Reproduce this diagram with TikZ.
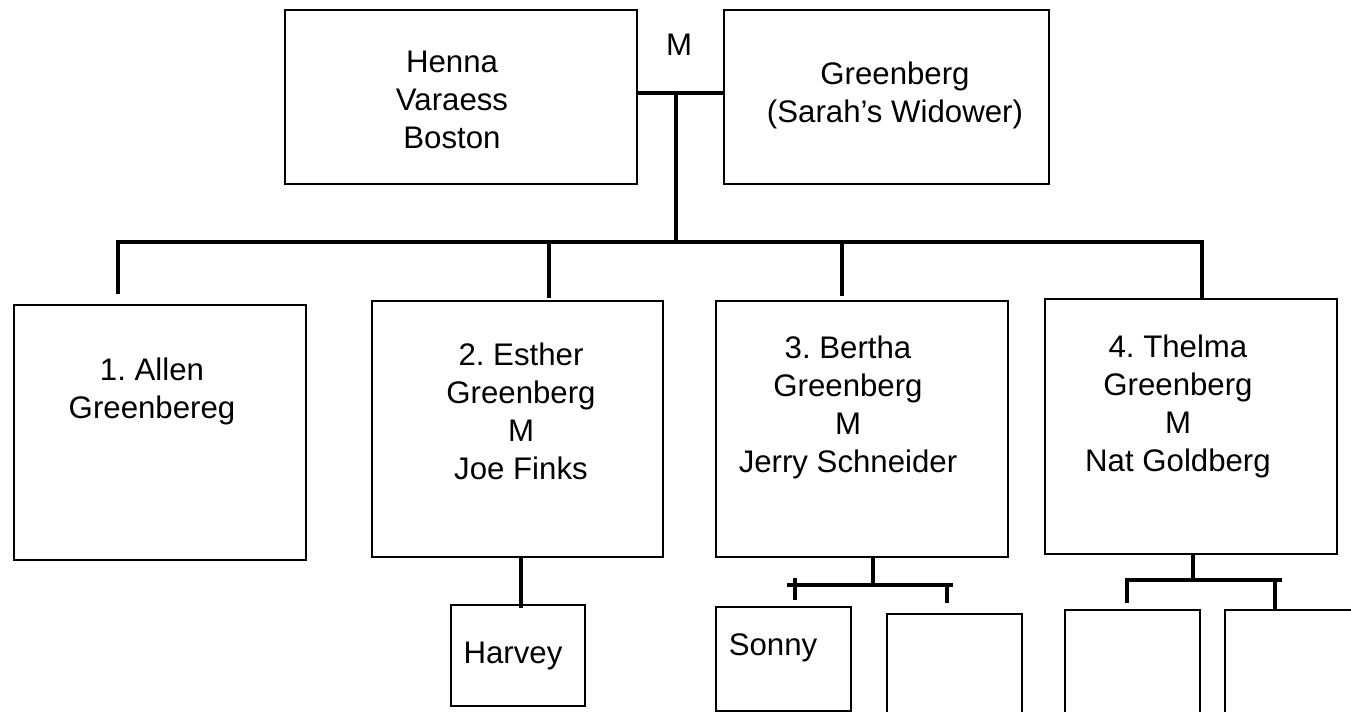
\documentclass[tikz,border=0pt]{standalone}
\usepackage{fontspec}
\setmainfont{Liberation Sans}
\frenchspacing
\newcommand\pbx[5]{\node[pbox, anchor=north west, minimum width={(#4-#2)*0.5pt}, minimum height={(#5-#3)*0.5pt}] (#1) at (#2,#3) {};}
\begin{document}
\frenchspacing
\begin{tikzpicture}[x=0.5pt,y=-0.5pt,
  pbox/.style={draw, line width=1pt, inner sep=0pt, outer sep=0pt},
  conn/.style={line width=2pt, line join=miter},
  txt/.style={anchor=north, inner sep=0pt, align=center, font=\fontsize{15.6pt}{19pt}\selectfont\frenchspacing}]
\useasboundingbox (0,0) rectangle (1351,712);
\clip (0,0) rectangle (1351,712);
% boxes
\pbx{henna}{285}{10}{637}{184}
\pbx{gb}{724}{10}{1049}{184}
\pbx{c1}{14}{305}{306}{560}
\pbx{c2}{372}{301}{663}{557}
\pbx{c3}{716}{301}{1008}{557}
\pbx{c4}{1045}{299}{1337}{554}
\pbx{harvey}{451}{605}{585}{706}
\pbx{sonny}{716}{607}{851}{711}
\pbx{s3b}{887}{614}{1022}{740}
\pbx{t1}{1065}{610}{1200}{740}
\pbx{t2}{1225}{610}{1380}{740}
% texts
\node[txt] (thenna) at (452,46) {\rule{0pt}{13pt}Henna\\Varaess\\Boston};
\node[txt] (tgb) at (895,58) {\rule{0pt}{13pt}Greenberg\\(Sarah’s Widower)};
\node[txt] (tm) at (679,29) {\rule{0pt}{13pt}M};
\node[txt] (tc1) at (152,354) {\rule{0pt}{13pt}1. Allen\\Greenbereg};
\node[txt] (tc2) at (521,339) {\rule{0pt}{13pt}2. Esther\\Greenberg\\M\\Joe Finks};
\node[txt] (tc3) at (848,332) {\rule{0pt}{13pt}3. Bertha\\Greenberg\\M\\Jerry Schneider};
\node[txt] (tc4) at (1178,331) {\rule{0pt}{13pt}4. Thelma\\Greenberg\\M\\Nat Goldberg};
\node[txt] (tharvey) at (513,637) {\rule{0pt}{13pt}Harvey};
\node[txt] (tsonny) at (773,629) {\rule{0pt}{13pt}Sonny};
% junction coordinates
\coordinate (mj) at (676,93);
\coordinate (bj) at (676,242);
\coordinate (bl) at (118,242);
\coordinate (br) at (1202,242);
\coordinate (c1t) at (118,294);
\coordinate (d2) at (549,242);
\coordinate (d2e) at (549,298);
\coordinate (d3) at (842,240);
\coordinate (d3e) at (842,296);
\coordinate (hv) at (521,608);
\coordinate (s3) at (873,585);
\coordinate (s3l) at (787,585);
\coordinate (s3r) at (953,585);
\coordinate (k1a) at (795,578);
\coordinate (k1b) at (795,600);
\coordinate (k2a) at (947,585);
\coordinate (k2b) at (947,603);
\coordinate (s4) at (1193,580);
\coordinate (s4l) at (1125,580);
\coordinate (s4r) at (1282,580);
\coordinate (k3a) at (1127,578);
\coordinate (k3b) at (1127,603);
\coordinate (k4a) at (1275,580);
% connectors
\draw[conn] (henna.east |- mj) -- (gb.west |- mj);
\draw[conn] (mj) -- (bj);
\draw[conn] (c1t) -- (bl) -- (br) -- (br |- c4.north);
\draw[conn] (d2) -- (d2e);
\draw[conn] (d3) -- (d3e);
\draw[conn] (c2.south -| hv) -- (hv);
\draw[conn] (c3.south -| s3) -- (s3);
\draw[conn] (s3l) -- (s3r);
\draw[conn] (k1a) -- (k1b);
\draw[conn] (k2a) -- (k2b);
\draw[conn] (c4.south -| s4) -- (s4);
\draw[conn] (s4l) -- (s4r);
\draw[conn] (k3a) -- (k3b);
\draw[conn] (k4a) -- (t2.north -| k4a);
\end{tikzpicture}
\end{document}
